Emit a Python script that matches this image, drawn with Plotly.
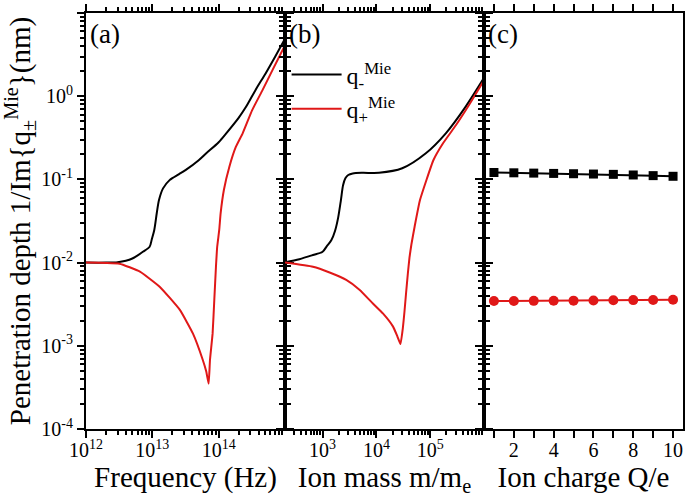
import plotly.graph_objects as go

# ---------------- data ----------------
# Panel (a): penetration depth vs frequency (Hz)
a_minus_freq = [1e12, 2e12, 3e12, 5e12, 7.2e12, 9.1e12, 9.8e12, 1.07e13, 1.17e13, 1.26e13,
                1.45e13, 1.82e13, 2.5e13, 3.2e13, 5e13, 6.5e13, 1e14, 1.3e14, 2e14, 2.6e14,
                3.6e14, 5.1e14, 7.2e14, 1e15]
a_minus_depth = [0.0100, 0.0100, 0.0101, 0.0112, 0.0135, 0.0155, 0.019, 0.0247, 0.040, 0.0565,
                 0.078, 0.098, 0.115, 0.130, 0.170, 0.206, 0.280, 0.358, 0.55, 0.75,
                 1.19, 1.88, 3.05, 4.9]

a_plus_freq = [1e12, 2e12, 3.2e12, 6.5e12, 1.3e13, 2.6e13, 4.1e13, 5.75e13, 6.5e13, 7.06e13,
               7.4e13, 8.1e13, 8.6e13, 9.1e13, 9.5e13, 1.02e14, 1.07e14, 1.2e14, 1.45e14,
               1.82e14, 2.3e14, 3.2e14, 4.6e14, 6.5e14, 1e15]
a_plus_depth = [0.0100, 0.0099, 0.0097, 0.0078, 0.0051, 0.0027, 0.0014, 0.00068, 0.00049, 0.00035,
                0.00068, 0.0014, 0.0036, 0.0089, 0.0155, 0.0247, 0.039, 0.075, 0.142,
                0.247, 0.358, 0.68, 1.19, 2.07, 4.1]

# Panel (b): penetration depth vs ion mass m/m_e
b_minus_mass = [200, 370, 630, 1000, 1200, 1450, 1700, 1950, 2190, 2400, 2650, 3000, 3630, 5500,
                11200, 30200, 83000, 195000, 457000, 1e6]
b_minus_depth = [0.0101, 0.0110, 0.0122, 0.0135, 0.0158, 0.0185, 0.024, 0.035, 0.0565, 0.085,
                 0.103, 0.113, 0.118, 0.120, 0.120, 0.136, 0.206, 0.358, 0.75, 1.66]

b_plus_mass = [200, 660, 1350, 2750, 4900, 8700, 13200, 20400, 24500, 28000, 30900, 33300,
               35700, 38500, 41200, 44700, 51300, 64600, 115000, 172000, 302000, 537000, 1e6]
b_plus_depth = [0.0100, 0.0089, 0.0076, 0.0062, 0.0047, 0.0032, 0.00245, 0.0017, 0.0013, 0.00105,
                0.0016, 0.0026, 0.0044, 0.0075, 0.0115, 0.0165, 0.027, 0.0565, 0.171, 0.27,
                0.45, 0.80, 1.55]

# Panel (c): penetration depth vs ion charge Q/e
charge = [1, 2, 3, 4, 5, 6, 7, 8, 9, 10]
c_minus_depth = [0.121, 0.120, 0.119, 0.118, 0.117, 0.116, 0.115, 0.113, 0.111, 0.109]
c_plus_depth = [0.00345, 0.00346, 0.00347, 0.00348, 0.00349, 0.00350, 0.00352, 0.00354, 0.00356, 0.00358]

# tick labels
y_ticks = [1e-4, 1e-3, 1e-2, 1e-1, 1e0, 1e1]
y_ticktext = ["10<sup>-4</sup>", "10<sup>-3</sup>", "10<sup>-2</sup>", "10<sup>-1</sup>",
              "10<sup>0</sup>", "10<sup>1</sup>"]
a_ticks = [1e12, 1e13, 1e14]
a_ticktext = ["10<sup>12</sup>", "10<sup>13</sup>", "10<sup>14</sup>"]
b_ticks = [1e3, 1e4, 1e5]
b_ticktext = ["10<sup>3</sup>", "10<sup>4</sup>", "10<sup>5</sup>"]
c_ticks = [1, 2, 3, 4, 5, 6, 7, 8, 9, 10]
c_ticktext = ["", "2", "", "4", "", "6", "", "8", "", "10"]

# ---------------- figure ----------------
BLACK = "#000000"
RED = "#e01818"
FONT = "Liberation Serif"

y_minor = [m * 10.0 ** e for e in range(-4, 1) for m in range(2, 10)]
a_minor = [m * 10.0 ** e for e in range(12, 15) for m in range(2, 10)]
b_minor = [m * 10.0 ** e for e in range(2, 6) for m in range(2, 10) if m * 10.0 ** e > 200]

fig = go.Figure()
leg_minus = "q<sub>-</sub><sup>Mie</sup>"
leg_plus = "q<sub>+</sub><sup>Mie</sup>"

fig.add_trace(go.Scatter(x=a_minus_freq, y=a_minus_depth, mode="lines", name=leg_minus,
                         line=dict(color=BLACK, width=2, shape="spline", smoothing=0.8),
                         xaxis="x", yaxis="y"))
fig.add_trace(go.Scatter(x=a_plus_freq, y=a_plus_depth, mode="lines", name=leg_plus,
                         line=dict(color=RED, width=2, shape="spline", smoothing=0.4),
                         xaxis="x", yaxis="y"))
fig.add_trace(go.Scatter(x=b_minus_mass, y=b_minus_depth, mode="lines", showlegend=False,
                         line=dict(color=BLACK, width=2, shape="spline", smoothing=0.8),
                         xaxis="x2", yaxis="y2"))
fig.add_trace(go.Scatter(x=b_plus_mass, y=b_plus_depth, mode="lines", showlegend=False,
                         line=dict(color=RED, width=2, shape="spline", smoothing=0.4),
                         xaxis="x2", yaxis="y2"))
fig.add_trace(go.Scatter(x=charge, y=c_minus_depth, mode="lines+markers", showlegend=False,
                         line=dict(color=BLACK, width=2),
                         marker=dict(symbol="square", size=9, color=BLACK),
                         xaxis="x3", yaxis="y3"))
fig.add_trace(go.Scatter(x=charge, y=c_plus_depth, mode="lines+markers", showlegend=False,
                         line=dict(color=RED, width=2),
                         marker=dict(symbol="circle", size=10, color=RED),
                         xaxis="x3", yaxis="y3"))

doms = [[0, 1 / 3], [1 / 3, 2 / 3], [2 / 3, 1]]
tickfont = dict(family=FONT, size=20, color=BLACK)
titlefont = dict(family=FONT, size=29, color=BLACK)

def minor(vals=None):
    d = dict(ticks="outside", ticklen=4, tickwidth=1.5, tickcolor=BLACK)
    if vals is not None:
        d.update(tickmode="array", tickvals=vals)
    return d

def base_axis(**kw):
    d = dict(showgrid=False, zeroline=False, showline=True, linecolor=BLACK, linewidth=2,
             mirror="ticks", ticks="outside", ticklen=7, tickwidth=1.5, tickcolor=BLACK,
             tickfont=tickfont, tickmode="array", automargin=False)
    d.update(kw)
    return d

yrange = [-4, 1]
XLAB_SHIFT = -5
fig.update_layout(
    xaxis=base_axis(type="log", range=[12, 15], domain=doms[0], anchor="y",
                    tickvals=a_ticks, ticktext=a_ticktext, minor=minor(a_minor),
                    ticklabelstandoff=XLAB_SHIFT,
                    title=dict(text="Frequency (Hz)", font=titlefont, standoff=0)),
    xaxis2=base_axis(type="log", range=[2.30103, 6], domain=doms[1], anchor="y2",
                     tickvals=b_ticks, ticktext=b_ticktext, minor=minor(b_minor),
                     ticklabelstandoff=XLAB_SHIFT,
                     title=dict(text="Ion mass m/m<sub>e</sub>", font=titlefont, standoff=0)),
    xaxis3=base_axis(type="linear", range=[0.5, 10.5], domain=doms[2], anchor="y3",
                     tickvals=c_ticks, ticktext=c_ticktext, ticklabelstandoff=XLAB_SHIFT,
                     title=dict(text="Ion charge Q/e", font=titlefont, standoff=0)),
    yaxis=base_axis(type="log", range=yrange, domain=[0, 1], anchor="x",
                    tickvals=y_ticks, ticktext=y_ticktext, minor=minor(y_minor),
                    title=dict(text="Penetration depth 1/Im{q<sub>±</sub><sup>Mie</sup>}(nm)",
                               font=dict(family=FONT, size=29, color=BLACK), standoff=3)),
    yaxis2=base_axis(type="log", range=yrange, domain=[0, 1], anchor="x2",
                     showticklabels=False, tickvals=y_ticks, minor=minor(y_minor)),
    yaxis3=base_axis(type="log", range=yrange, domain=[0, 1], anchor="x3",
                     showticklabels=False, tickvals=y_ticks, minor=minor(y_minor)),
)

panel_labels = ["(a)", "(b)", "(c)"]
for i, lab in enumerate(panel_labels):
    fig.add_annotation(text=lab, xref="paper", yref="paper",
                       x=doms[i][0] + 0.003, y=0.99, xanchor="left", yanchor="top",
                       showarrow=False, font=dict(family=FONT, size=27, color=BLACK))

fig.update_layout(
    width=685, height=497,
    margin=dict(l=86, r=2, t=13, b=68),
    paper_bgcolor="white", plot_bgcolor="white",
    font=dict(family=FONT, color=BLACK),
    legend=dict(x=0.336, y=0.905, xanchor="left", yanchor="top",
                bgcolor="rgba(0,0,0,0)", font=dict(family=FONT, size=24, color=BLACK),
                itemwidth=50, tracegroupgap=0),
)

# remove the default page margin so the 685x497 figure fills the window exactly
fig.write_html("out.html", config={"displayModeBar": False},
               post_script="document.body.style.margin='0';document.body.style.overflow='hidden';")
